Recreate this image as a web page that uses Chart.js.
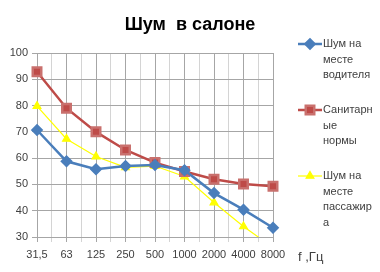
<!DOCTYPE html>
<html>
<head>
<meta charset="utf-8">
<script src="https://cdn.jsdelivr.net/npm/chart.js@4"></script>
<style>
  html, body { margin: 0; padding: 0; background: #fff; }
  #wrap { width: 380px; height: 272px; position: relative; }
</style>
</head>
<body>
<div id="wrap"><canvas id="myChart" width="380" height="272"></canvas></div>
<script>
const categories = ['31,5', '63', '125', '250', '500', '1000', '2000', '4000', '8000'];
const driver = [70.7, 58.8, 55.8, 57, 57.4, 55.4, 46.7, 40.4, 33.5];
const norms = [92.9, 79, 70, 63.1, 58.3, 54.9, 52, 50.2, 49.3];
const passenger = [79.8, 67.3, 60.6, 56.5, 57, 53, 43.1, 34, 26];
const yTicks = [30, 40, 50, 60, 70, 80, 90, 100];
const legendLines = [
  ['Шум на', 'месте', 'водителя'],
  ['Санитарн', 'ые', 'нормы'],
  ['Шум на', 'месте', 'пассажир', 'а']
];

const font = 'Liberation Sans, Arial, sans-serif';
const textColor = '#404040';

function pts(arr) {
  return arr.map((v, i) => ({ x: i, y: v }));
}

// title, legend and axis name drawn on the canvas
const extras = {
  id: 'extras',
  afterDraw(chart) {
    const c = chart.ctx;
    c.save();
    c.fillStyle = '#000';
    c.font = 'bold 18px ' + font;
    c.textAlign = 'center';
    c.textBaseline = 'middle';
    c.fillText('Шум  в салоне', 190, 25);

    c.font = '13px ' + font;
    c.fillStyle = textColor;
    c.textAlign = 'left';
    c.fillText('f ,Гц', 298, 257);

    c.font = '11px ' + font;
    const tops = [44, 110, 176];
    chart.data.datasets.forEach((ds, i) => {
      const y = tops[i];
      c.strokeStyle = ds.borderColor;
      c.lineWidth = ds.borderWidth;
      c.beginPath();
      c.moveTo(298, y);
      c.lineTo(322, y);
      c.stroke();
      const opts = {
        pointStyle: ds.pointStyle,
        radius: ds.pointRadius,
        rotation: 0,
        borderWidth: 1
      };
      c.fillStyle = ds.pointBackgroundColor;
      c.strokeStyle = ds.pointBorderColor;
      Chart.helpers.drawPoint(c, opts, 310, y);
      c.fillStyle = textColor;
      legendLines[i].forEach((t, j) => {
        c.fillText(t, 323, y + j * 15.5);
      });
    });
    c.restore();
  }
};

new Chart(document.getElementById('myChart'), {
  type: 'line',
  data: {
    datasets: [
      {
        label: 'Шум на месте водителя',
        data: pts(driver),
        clip: false,
        borderColor: '#4A7EBB',
        borderWidth: 2.5,
        pointStyle: 'rectRot',
        pointRadius: 4.5,
        pointBackgroundColor: '#4A7EBB',
        pointBorderColor: '#4A7EBB'
      },
      {
        label: 'Санитарные нормы',
        data: pts(norms),
        clip: false,
        borderColor: '#BE4B48',
        borderWidth: 2.5,
        pointStyle: 'rect',
        pointRadius: 6,
        pointBackgroundColor: '#BE4B48',
        pointBorderColor: '#C9706D'
      },
      {
        label: 'Шум на месте пассажира',
        data: pts(passenger),
        clip: { left: 10, right: 10, top: 10, bottom: 0 },
        borderColor: '#FFFF00',
        borderWidth: 1.2,
        pointStyle: 'triangle',
        pointRadius: 4.5,
        pointBackgroundColor: '#FFFF00',
        pointBorderColor: '#FFFF00'
      }
    ]
  },
  options: {
    responsive: false,
    animation: false,
    layout: { padding: { top: 53, right: 107, left: 0, bottom: 0 } },
    plugins: {
      legend: { display: false },
      title: { display: false },
      tooltip: { enabled: false }
    },
    scales: {
      x: {
        type: 'linear',
        min: 0,
        max: categories.length - 1,
        afterFit(s) { s.height = 35; },
        grid: {
          color: ctx => Number.isInteger(ctx.tick.value) ? '#A6A6A6' : '#D4D4D4',
          tickLength: 5,
          drawTicks: true
        },
        border: { display: false },
        ticks: {
          stepSize: 0.5,
          autoSkip: false,
          maxRotation: 0,
          color: textColor,
          font: { family: font, size: 11 },
          padding: 6,
          callback: v => Number.isInteger(v) ? categories[v] : ''
        }
      },
      y: {
        min: 30,
        max: 100,
        afterFit(s) { s.width = 37; },
        afterBuildTicks(s) { s.ticks = yTicks.map(v => ({ value: v })); },
        grid: { color: '#A6A6A6', tickLength: 5 },
        border: { display: false },
        ticks: {
          color: textColor,
          font: { family: font, size: 11 },
          padding: 4
        }
      }
    }
  },
  plugins: [extras]
});
</script>
</body>
</html>
